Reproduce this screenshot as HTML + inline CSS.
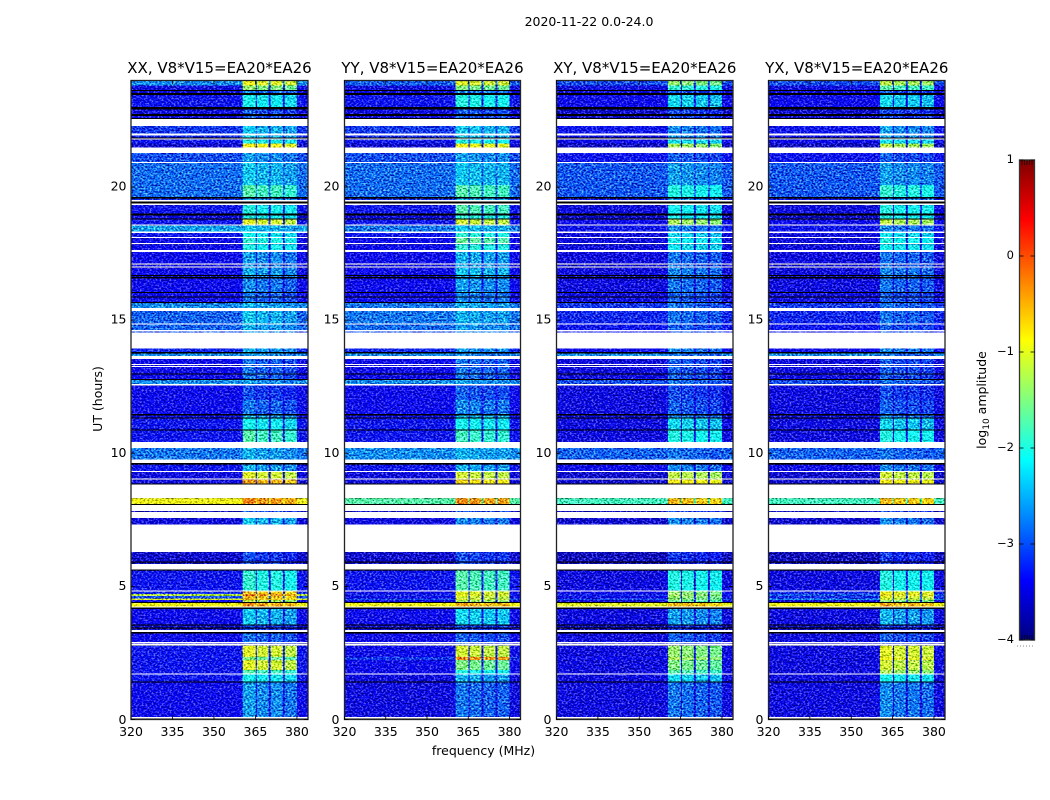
<!DOCTYPE html>
<html>
<head>
<meta charset="utf-8">
<title>2020-11-22 0.0-24.0</title>
<style>
html,body{margin:0;padding:0;background:#fff;width:1050px;height:800px;overflow:hidden}
svg{display:block}
text{font-family:"DejaVu Sans","Liberation Sans",sans-serif;fill:#000}
</style>
</head>
<body>
<svg id="figure" xmlns="http://www.w3.org/2000/svg" width="1050" height="800" viewBox="0 0 1050 800">
  <defs id="defs">
    <linearGradient id="jet-gradient" x1="0" y1="1" x2="0" y2="0"></linearGradient>
  </defs>
  <text x="589" y="26" font-size="12.5" text-anchor="middle">2020-11-22 0.0-24.0</text>
  <text x="483.5" y="755" font-size="12.5" text-anchor="middle">frequency (MHz)</text>
  <text transform="translate(102,399) rotate(-90)" font-size="12.5" text-anchor="middle">UT (hours)</text>
  <text transform="translate(986,400) rotate(-90)" font-size="12.5" text-anchor="middle">log<tspan font-size="9" dy="3">10</tspan><tspan dy="-3"> amplitude</tspan></text>
  <g id="panels"></g>
  <g id="colorbar"></g>
</svg>
<script>
// ---- data arrays ----
const xTickLabels = [320, 335, 350, 365, 380];
const yTickLabels = [0, 5, 10, 15, 20];
const colorbarTickLabels = [1, 0, -1, -2, -3, -4];
const panelNames = ["XX", "YY", "XY", "YX"];
const baselineLabel = "V8*V15=EA20*EA26";
const windowStartMHz = [360.4, 365.5, 370.5, 375.6];
const windowEndMHz = [365.1, 369.8, 374.9, 380.0];
// top edge (UT hours) of each time row, from the top of the plot downwards
const rowTopUT = [
23.98,23.81,23.64,23.61,23.53,23.46,23.00,22.91,22.74,22.67,22.59,22.55,22.29,22.01,21.94,21.86,21.83,21.78,21.63,21.48,
21.28,20.94,20.90,20.07,19.62,19.56,19.51,19.46,19.38,19.32,19.00,18.93,18.82,18.78,18.59,18.55,18.32,18.28,18.12,18.08,
17.90,17.85,17.63,17.56,17.13,17.08,17.01,16.97,16.69,16.65,16.62,16.57,16.06,16.02,15.89,15.86,15.68,15.64,15.45,15.35,
14.88,14.84,14.62,14.58,14.53,13.94,13.80,13.75,13.65,13.54,13.35,13.31,13.28,13.24,13.00,12.98,12.79,12.75,12.60,12.54,
12.00,11.47,11.42,11.35,11.31,10.89,10.86,10.42,10.20,9.77,9.64,9.57,9.33,9.30,9.05,9.01,8.86,8.82,8.31,8.09,
8.06,7.83,7.79,7.57,7.32,6.29,5.93,5.89,5.84,5.64,5.59,4.85,4.81,4.71,4.64,4.54,4.49,4.41,4.38,4.24,
4.21,4.15,3.57,3.53,3.45,3.41,3.36,3.29,3.23,2.91,2.86,2.84,2.77,2.35,2.23,1.86,1.73,1.69,1.43,1.40,
0.09,0.04];
// row type: d = measured, w = no data (white), k = flagged (black)
const rowKinds = [
"ddkdkdkdkdkw",
"dwdkwddw",
"dwddkdwkwd",
"kdkdwdwdwd",
"wdwdwdwdkd",
"kdkdkdkdwd",
"wdwdwdkdwd",
"wdwdkdkdwd",
"dkdkdkdwdw",
"kdwdwdkwdk",
"wdwdwdkdwk",
"dwdddddkdw",
"kdkdkdwkdw",
"dwddddwdkd",
"wk"
].join("");
const xxBackground = [
-2.7,-3.5,-3.5,-3.3,-3.5,-3.5,-3.1,-3.2,-3.3,-3.6,
-3.0,-2.85,-2.85,-3.2,-3.3,-3.5,-3.3,-2.6,-3.3,-3.4,
-3.4,-3.4,-3.4,-3.4,-3.4,-3.4,-3.4,-3.4,-2.7,-2.9,
-2.9,-3.0,-3.2,-2.7,-3.4,-3.4,-3.4,-3.4,-2.7,-3.4,
-3.4,-3.4,-3.3,-3.3,-2.8,-3.3,-3.5,-3.5,-0.9,-3.7,
-3.5,-3.6,-3.6,-3.3,-3.2,-1.2,-3.0,-1.0,-3.4,-0.9,
-3.4,-3.6,-3.6,-3.4,-3.5,-3.3,-3.3,-3.3,-3.3,-3.3,-3.4];
const xxChannels = [
-1.0,-1.5,-2.8,-2.2,-3.0,-3.0,-2.5,-2.5,-2.1,-0.9,
-2.7,-2.5,-1.8,-2.6,-2.1,-2.1,-1.1,-2.5,-2.2,-2.0,
-2.1,-2.7,-2.7,-2.6,-2.6,-2.8,-2.9,-2.9,-2.6,-2.5,
-2.6,-2.7,-2.6,-2.7,-2.9,-2.9,-2.9,-2.9,-2.7,-3.1,
-2.9,-2.6,-2.2,-1.8,-2.6,-2.6,-1.1,-0.5,-0.35,-3.0,
-2.5,-3.1,-3.1,-2.0,-0.6,-0.3,-0.6,-0.6,-1.3,-0.4,
-2.5,-3.1,-3.1,-2.9,-3.1,-1.1,-1.6,-1.1,-1.8,-2.2,-2.7];
const yyBackground = [
-2.9,-3.5,-3.5,-3.3,-3.5,-3.5,-3.1,-3.2,-3.3,-3.6,
-3.0,-2.85,-2.85,-3.2,-3.3,-3.5,-3.3,-2.8,-3.3,-3.4,
-3.4,-3.4,-3.4,-3.4,-3.4,-3.4,-3.4,-3.4,-2.8,-2.8,
-2.85,-3.0,-3.2,-2.7,-3.4,-3.4,-3.4,-3.4,-2.7,-3.4,
-3.4,-3.4,-3.3,-3.3,-2.7,-3.3,-3.5,-3.5,-1.7,-3.7,
-3.5,-3.6,-3.6,-3.3,-3.4,-3.2,-3.4,-3.0,-3.4,-0.9,
-3.4,-3.6,-3.6,-3.4,-3.5,-3.4,-3.1,-3.4,-3.4,-3.5,-3.5];
const yyChannels = [
-1.1,-1.6,-2.8,-2.1,-3.0,-3.0,-2.5,-2.5,-2.1,-1.0,
-2.7,-2.5,-1.8,-2.5,-1.8,-2.0,-1.2,-2.5,-2.0,-1.7,
-2.0,-2.6,-2.6,-2.5,-2.5,-2.7,-2.8,-2.8,-2.6,-2.6,
-2.7,-2.8,-2.7,-2.8,-2.9,-2.9,-2.9,-2.9,-2.7,-3.0,
-2.8,-2.5,-2.2,-1.9,-2.6,-2.6,-1.2,-0.8,-0.4,-3.0,
-2.8,-3.1,-3.1,-1.8,-1.1,-1.0,-1.2,-1.1,-1.4,-0.5,
-2.4,-3.1,-3.1,-3.0,-3.1,-1.2,-0.4,-1.6,-2.1,-2.6,-2.9];
const xyBackground = [
-3.0,-3.5,-3.5,-3.4,-3.6,-3.6,-3.3,-3.4,-3.4,-3.7,
-3.3,-2.95,-2.95,-3.4,-3.5,-3.6,-3.4,-3.3,-3.5,-3.5,
-3.5,-3.5,-3.5,-3.5,-3.5,-3.5,-3.5,-3.5,-3.1,-3.2,
-3.3,-3.3,-3.4,-2.7,-3.5,-3.5,-3.5,-3.5,-3.0,-3.5,
-3.5,-3.5,-3.5,-3.5,-2.9,-3.4,-3.6,-3.6,-1.8,-3.7,
-3.6,-3.7,-3.7,-3.5,-3.4,-3.2,-3.4,-3.0,-3.5,-1.0,
-3.5,-3.7,-3.7,-3.5,-3.6,-3.5,-3.4,-3.5,-3.5,-3.5,-3.5];
const xyChannels = [
-1.5,-2.0,-3.0,-2.4,-3.1,-3.1,-2.8,-2.7,-2.3,-1.4,
-3.0,-2.7,-2.1,-2.7,-2.2,-2.2,-1.4,-2.8,-2.4,-2.2,
-2.3,-2.9,-2.9,-2.8,-2.8,-2.9,-3.0,-3.0,-2.9,-2.9,
-3.0,-3.0,-2.8,-2.9,-3.0,-3.0,-3.0,-3.0,-2.9,-3.1,
-3.0,-2.8,-2.4,-2.1,-2.9,-2.8,-1.3,-0.9,-0.6,-3.1,
-2.8,-3.2,-3.2,-2.1,-1.5,-1.4,-1.5,-1.5,-1.7,-0.6,
-2.7,-3.2,-3.2,-3.0,-3.2,-1.5,-1.4,-1.6,-1.8,-2.4,-2.9];
const yxBackground = [
-3.0,-3.5,-3.5,-3.4,-3.6,-3.6,-3.3,-3.4,-3.4,-3.7,
-3.3,-2.95,-2.95,-3.4,-3.5,-3.6,-3.4,-3.3,-3.5,-3.5,
-3.5,-3.5,-3.5,-3.5,-3.5,-3.5,-3.5,-3.5,-3.1,-3.2,
-3.3,-3.3,-3.4,-2.7,-3.5,-3.5,-3.5,-3.5,-3.0,-3.5,
-3.5,-3.5,-3.5,-3.5,-2.9,-3.4,-3.6,-3.6,-1.8,-3.7,
-3.6,-3.7,-3.7,-3.5,-3.2,-2.9,-3.2,-2.7,-3.5,-0.9,
-3.5,-3.7,-3.7,-3.5,-3.6,-3.5,-3.5,-3.5,-3.5,-3.5,-3.5];
const yxChannels = [
-1.3,-1.8,-3.0,-2.4,-3.1,-3.1,-2.7,-2.7,-2.3,-1.3,
-3.0,-2.7,-2.0,-2.7,-2.1,-2.1,-1.3,-2.8,-2.3,-2.1,
-2.2,-2.9,-2.9,-2.8,-2.8,-2.9,-3.0,-3.0,-2.9,-2.9,
-3.0,-3.0,-2.8,-2.9,-3.0,-3.0,-3.0,-3.0,-2.9,-3.1,
-3.0,-2.8,-2.4,-2.1,-2.9,-2.8,-1.2,-0.9,-0.6,-3.1,
-2.8,-3.2,-3.2,-2.1,-1.0,-0.8,-1.1,-1.1,-1.5,-0.5,
-2.6,-3.2,-3.2,-3.0,-3.2,-1.1,-1.0,-1.2,-1.4,-2.2,-2.8];
const xxWindowOffset = [0.1, 0.0, 0.0, -0.1];
const yyWindowOffset = [0.1, 0.05, 0.0, 0.0];
const xyWindowOffset = [0.1, 0.05, 0.0, -0.05];
const yxWindowOffset = [0.1, 0.0, 0.0, -0.05];

// ---- layout and scales ----
const NS = "http://www.w3.org/2000/svg";
const frames = [[131, 308], [344.5, 520.5], [556.5, 733], [768.5, 945]];
const plotTop = 80.5, plotBottom = 719.5;
const freqMin = 320, freqMax = 384, utMin = 0, utMax = 24;
const cbLeft = 1019.5, cbRight = 1034.5, cbTop = 160, cbBottom = 640;
const levelMin = -4, levelMax = 1;
function xScale(f, frame) { return frame[0] + (f - freqMin) / (freqMax - freqMin) * (frame[1] - frame[0]); }
function yScale(u) { return plotBottom - (u - utMin) / (utMax - utMin) * (plotBottom - plotTop); }
function cbScale(v) { return cbBottom - (v - levelMin) / (levelMax - levelMin) * (cbBottom - cbTop); }
function clip01(v) { return Math.max(0, Math.min(1, v)); }
function jet(level) {
  const t = clip01((level - levelMin) / (levelMax - levelMin));
  const r = clip01(1.5 - Math.abs(4 * t - 3));
  const g = clip01(1.5 - Math.abs(4 * t - 2));
  const b = clip01(1.5 - Math.abs(4 * t - 1));
  return "rgb(" + Math.round(r * 255) + "," + Math.round(g * 255) + "," + Math.round(b * 255) + ")";
}
function make(tag, attrs, parent) {
  const el = document.createElementNS(NS, tag);
  for (const k in attrs) el.setAttribute(k, attrs[k]);
  parent.appendChild(el);
  return el;
}
function fmt(v) { return String(v).replace("-", "\u2212"); }
// speckle texture limited to one panel's plot area, so it cannot spill onto neighbours
function makeSpeckleFilter(id, frame) {
  const defs = document.getElementById("defs");
  const f = make("filter", {
    id: id, filterUnits: "userSpaceOnUse",
    x: frame[0], y: plotTop, width: frame[1] - frame[0], height: plotBottom - plotTop,
    "color-interpolation-filters": "sRGB"
  }, defs);
  make("feTurbulence", { type: "fractalNoise", baseFrequency: "0.5 0.6", numOctaves: 2, seed: 7, result: "n" }, f);
  make("feColorMatrix", { in: "n", type: "matrix", values: "2.2 0 0 0 -0.6  2.2 0 0 0 -0.6  2.2 0 0 0 -0.6  0 0 0 0 1", result: "g" }, f);
  make("feComposite", { in: "SourceGraphic", in2: "g", operator: "arithmetic", k1: 0, k2: 1, k3: 0.8, k4: -0.4 }, f);
}

const panelBackgrounds = [xxBackground, yyBackground, xyBackground, yxBackground];
const panelChannels = [xxChannels, yyChannels, xyChannels, yxChannels];
const panelOffsets = [xxWindowOffset, yyWindowOffset, xyWindowOffset, yxWindowOffset];
const panelsRoot = document.getElementById("panels");

panelNames.forEach(function (name, p) {
  const frame = frames[p];
  const key = name.toLowerCase();
  const panel = make("g", {}, panelsRoot);
  
  

  makeSpeckleFilter("speckle-" + key, frame);
  const heat = make("g", { filter: "url(#speckle-" + key + ")" }, panel);
  
  
  const masks = make("g", { "shape-rendering": "crispEdges" }, panel);
  
  

  let dataIndex = 0;
  rowTopUT.forEach(function (top, i) {
    const bottom = i + 1 < rowTopUT.length ? rowTopUT[i + 1] : utMin;
    const yTop = i === 0 ? plotTop : yScale(top);
    const h = yScale(bottom) - yTop;
    const x0 = xScale(freqMin, frame);
    const w = xScale(freqMax, frame) - x0;
    const kind = rowKinds[i];
    if (kind === "d") {
      const cell = make("rect", { x: x0, y: yTop, width: w, height: h + 0.2, fill: jet(panelBackgrounds[p][dataIndex]) }, heat);
      
      
      windowStartMHz.forEach(function (start, wi) {
        const wx = xScale(start, frame);
        const win = make("rect", {
          x: wx, y: yTop,
          width: xScale(windowEndMHz[wi], frame) - wx, height: h + 0.2,
          fill: jet(panelChannels[p][dataIndex] + panelOffsets[p][wi])
        }, heat);
        
        
      });
      dataIndex++;
    } else {
      const mask = make("rect", { x: x0, y: yTop, width: w, height: Math.max(h, 1), fill: kind === "w" ? "#fff" : "#000" }, masks);
      
      
    }
  });

  const border = make("rect", { x: frame[0], y: plotTop, width: frame[1] - frame[0], height: plotBottom - plotTop, fill: "none", stroke: "#222", "stroke-width": 1.3 }, panel);
  
  

  const title = make("text", { x: (frame[0] + frame[1]) / 2, y: 73, "font-size": 15, "text-anchor": "middle" }, panel);
  
  
  title.textContent = name + ", " + baselineLabel;

  xTickLabels.forEach(function (v) {
    const x = xScale(v, frame);
    const t1 = make("line", { x1: x, x2: x, y1: plotBottom, y2: plotBottom - 4, stroke: "#000", "stroke-width": 0.8 }, panel);
    
    
    const t2 = make("line", { x1: x, x2: x, y1: plotTop, y2: plotTop + 4, stroke: "#000", "stroke-width": 0.8 }, panel);
    
    
    const label = make("text", { x: x, y: 736, "font-size": 12.5, "text-anchor": "middle" }, panel);
    
    
    label.textContent = v;
  });
  yTickLabels.forEach(function (v) {
    const y = yScale(v);
    const t1 = make("line", { x1: frame[0], x2: frame[0] + 4, y1: y, y2: y, stroke: "#000", "stroke-width": 0.8 }, panel);
    
    
    const t2 = make("line", { x1: frame[1], x2: frame[1] - 4, y1: y, y2: y, stroke: "#000", "stroke-width": 0.8 }, panel);
    
    
    const label = make("text", { x: Math.floor(frame[0]) - 4.5, y: y + (v === 0 ? 4.5 : 3.5), "font-size": 12.5, "text-anchor": "end" }, panel);
    
    
    label.textContent = v;
  });
});

// ---- colorbar ----
const cb = document.getElementById("colorbar");
const gradient = document.getElementById("jet-gradient");
for (let i = 0; i <= 40; i++) {
  make("stop", { offset: (i / 40), "stop-color": jet(levelMin + (levelMax - levelMin) * i / 40) }, gradient);
}
const cbBar = make("rect", { x: cbLeft, y: cbTop, width: cbRight - cbLeft, height: cbBottom - cbTop, fill: "url(#jet-gradient)", stroke: "#333", "stroke-width": 1.3 }, cb);


colorbarTickLabels.forEach(function (v) {
  const y = cbScale(v);
  const a = make("line", { x1: cbLeft, x2: cbLeft + 4, y1: y, y2: y, stroke: "#000", "stroke-width": 0.8 }, cb);
  
  
  const b = make("line", { x1: cbRight - 4, x2: cbRight, y1: y, y2: y, stroke: "#000", "stroke-width": 0.8 }, cb);
  
  
  const label = make("text", { x: 1014, y: y + 3, "font-size": 11.5, "text-anchor": "end" }, cb);
  
  
  label.textContent = fmt(v);
});
for (let i = 1; i <= 5; i++) {
  const x = cbLeft + i * 2.5;
  const t = make("line", { x1: x, x2: x, y1: cbTop, y2: cbTop + 5, stroke: "#000", "stroke-width": 0.6 }, cb);
  
  
  const u = make("line", { x1: x, x2: x, y1: cbBottom, y2: cbBottom - 5, stroke: "#000", "stroke-width": 0.6 }, cb);
  
  
}
const dots = make("line", { x1: 1017, x2: 1035, y1: 646, y2: 646, stroke: "#888", "stroke-width": 1, "stroke-dasharray": "1 2" }, cb);


</script>
</body>
</html>
